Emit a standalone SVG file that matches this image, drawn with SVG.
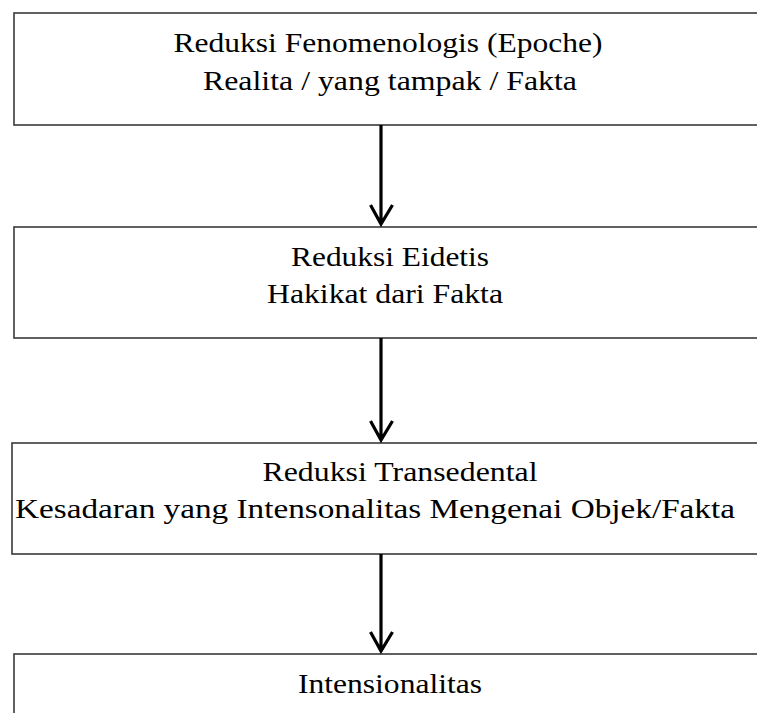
<svg xmlns="http://www.w3.org/2000/svg" width="757" height="713" viewBox="0 0 757 713">
<defs>
<style>
.box{fill:#fff;stroke:#3a3a3a;stroke-width:1.6}
.t{font-family:"Liberation Serif","Times New Roman",serif;font-size:28px;fill:#000;text-anchor:middle}
.c{stroke:#000;stroke-width:3.2;fill:none;stroke-linecap:butt;stroke-linejoin:miter}
</style>
</defs>
<rect width="757" height="713" fill="#fff"/>
<g id="node1">
<rect class="box" x="14" y="13" width="760" height="112"/>
<text class="t" x="388" y="52" textLength="429" lengthAdjust="spacingAndGlyphs">Reduksi Fenomenologis (Epoche)</text>
<text class="t" x="390" y="90" textLength="374" lengthAdjust="spacingAndGlyphs">Realita / yang tampak / Fakta</text>
</g>
<g id="node2">
<rect class="box" x="14" y="227" width="760" height="111"/>
<text class="t" x="390" y="266" textLength="198" lengthAdjust="spacingAndGlyphs">Reduksi Eidetis</text>
<text class="t" x="385" y="303" textLength="236" lengthAdjust="spacingAndGlyphs">Hakikat dari Fakta</text>
</g>
<g id="node3">
<rect class="box" x="12" y="443" width="762" height="111"/>
<text class="t" x="400" y="481" textLength="275" lengthAdjust="spacingAndGlyphs">Reduksi Transedental</text>
<text class="t" x="375" y="518" textLength="720" lengthAdjust="spacingAndGlyphs">Kesadaran yang Intensonalitas Mengenai Objek/Fakta</text>
</g>
<g id="node4">
<rect class="box" x="14" y="654" width="760" height="80"/>
<text class="t" x="390" y="693" textLength="184" lengthAdjust="spacingAndGlyphs">Intensionalitas</text>
</g>
<g id="connectors">
<path class="c" d="M381 125V224M370.5 205L381 224L392.5 205"/>
<path class="c" d="M381 338V440M370.5 421L381 440L392.5 421"/>
<path class="c" d="M381 554V651M370.5 632L381 651L392.5 632"/>
</g>
</svg>
